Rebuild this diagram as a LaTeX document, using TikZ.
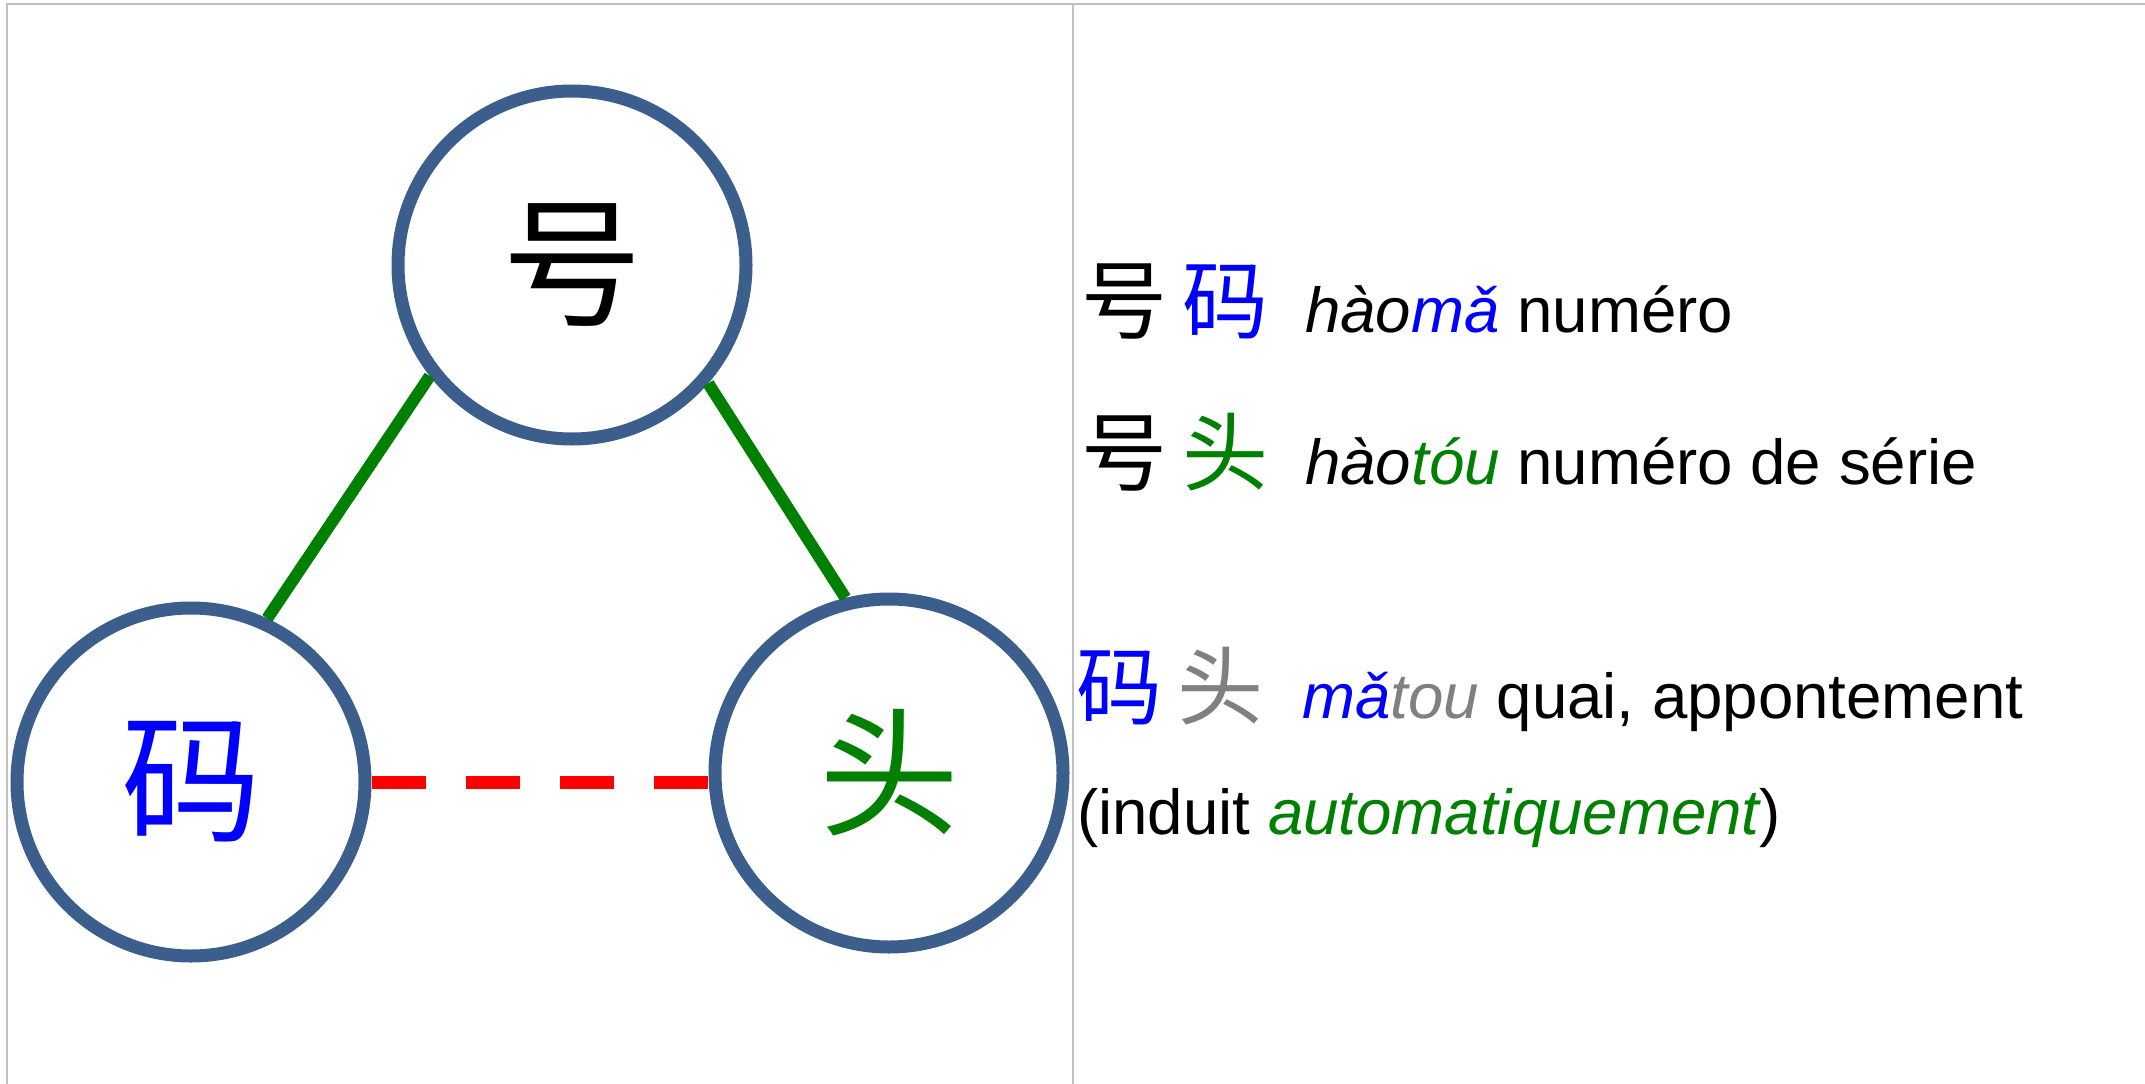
\documentclass[tikz,border=0pt]{standalone}
\usepackage{fontspec}
\setmainfont{Liberation Sans}
\newfontfamily\cjk{Noto Sans CJK SC}
\definecolor{ring}{RGB}{59,94,140}
\definecolor{framegray}{RGB}{192,192,192}
\definecolor{lgreen}{RGB}{0,128,0}
\definecolor{lgray}{RGB}{128,128,128}
\begin{document}
\begin{tikzpicture}[x=1pt,y=-1pt,
  ringnode/.style={circle,draw=ring,line width=13pt,fill=white,minimum size=348pt,inner sep=0pt,font=\cjk\fontsize{140}{145}\selectfont},
  linktie/.style={draw=lgreen,line width=12pt},
  autolink/.style={draw=red,line width=13pt,dash pattern=on 54pt off 40pt},
  framerule/.style={draw=framegray,line width=2.5pt},
  gloss/.style={anchor=base west,inner sep=0pt,font=\fontsize{63.6}{75}\selectfont}
]
\useasboundingbox (0,0) rectangle (2145,1084);
\fill[white] (0,0) rectangle (2145,1084);
% frame
\coordinate (tl) at (7,4);
\coordinate (tr) at (2145,4);
\coordinate (bl) at (7,1084);
\coordinate (dt) at (1073,4);
\coordinate (db) at (1073,1084);
\draw[framerule] (tr) -- (tl) -- (bl);
\draw[framerule] (dt) -- (db);
% circles
\node[ringnode] (hao) at (572,265) {号};
\node[ringnode,text=blue] (ma) at (191,782) {码};
\node[ringnode,text=lgreen] (tou) at (889,773) {头};
% connectors
\draw[linktie] (hao.218.5) -- (ma.65);
\draw[linktie] (hao.319.3) -- (tou.104.8);
\draw[autolink] (ma.east) -- (ma.east -| tou.west);
% glosses
\node[gloss] (g1) at (1081,332) {{\cjk\fontsize{86}{90}\selectfont 号\hspace{15pt}\textcolor{blue}{码}}\hspace{37pt}\textit{hào\textcolor{blue}{mǎ}} numéro};
\node[gloss] (g2) at (1081,484) {{\cjk\fontsize{86}{90}\selectfont 号\hspace{15pt}\textcolor{lgreen}{头}}\hspace{37pt}\textit{hào\textcolor{lgreen}{tóu}} numéro de série};
\node[gloss] (g3) at (1076,718) {{\cjk\fontsize{86}{90}\selectfont \textcolor{blue}{码}\hspace{15pt}\textcolor{lgray}{头}}\hspace{39pt}\textit{\textcolor{blue}{mǎ}\textcolor{lgray}{tou}} quai, appontement};
\node[gloss] (g4) at (1077,834) {(induit \textit{\textcolor{lgreen}{automatiquement}})};
\end{tikzpicture}
\end{document}
